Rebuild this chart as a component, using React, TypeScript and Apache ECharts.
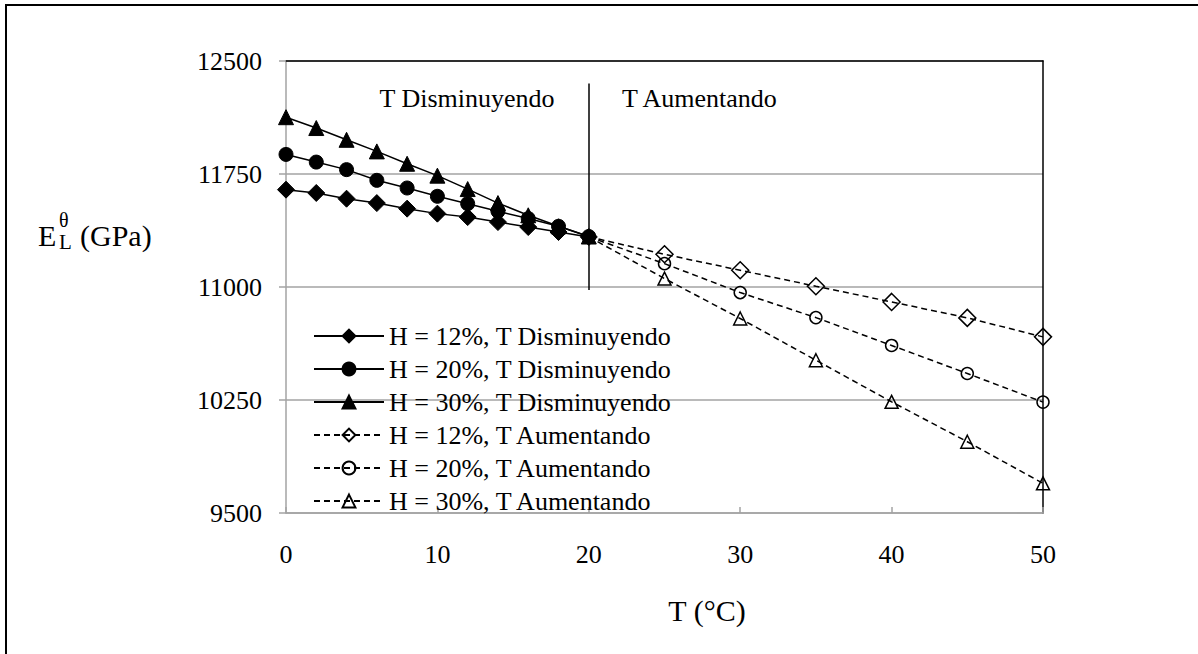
import React, { useEffect, useRef } from "react";
import * as echarts from "echarts";

const tDown = [0, 2, 4, 6, 8, 10, 12, 14, 16, 18, 20];
const tUp = [20, 25, 30, 35, 40, 45, 50];

const h12Down = [11646, 11624, 11586, 11557, 11520, 11487, 11464, 11431, 11398, 11365, 11332];
const h20Down = [11880, 11829, 11779, 11708, 11657, 11602, 11553, 11503, 11454, 11403, 11335];
const h30Down = [12127, 12055, 11977, 11900, 11818, 11739, 11650, 11557, 11476, 11403, 11335];

const h12Up = [11333, 11217, 11111, 11005, 10901, 10795, 10669];
const h20Up = [11333, 11155, 10963, 10797, 10612, 10426, 10236];
const h30Up = [11333, 11056, 10791, 10514, 10238, 9973, 9697];

const seriesNames = [
  "H = 12%, T Disminuyendo",
  "H = 20%, T Disminuyendo",
  "H = 30%, T Disminuyendo",
  "H = 12%, T Aumentando",
  "H = 20%, T Aumentando",
  "H = 30%, T Aumentando",
];

const yTicks = { min: 9500, max: 12500, interval: 750 };
const xTicks = { min: 0, max: 50, interval: 10 };

const dividerT = 20;
const dividerTop = 12350;
const dividerBottom = 10980;

const FONT = "'Liberation Serif', 'Times New Roman', serif";
const GRAY = "#a3a3a3";

function pairs(xs: number[], ys: number[], skipFirstSymbol = false) {
  return xs.map((x, i) =>
    skipFirstSymbol && i === 0 ? { value: [x, ys[i]], symbol: "none" } : { value: [x, ys[i]] }
  );
}

export default function App() {
  const ref = useRef<HTMLDivElement>(null);

  useEffect(() => {
    if (!ref.current) return;
    const chart = echarts.init(ref.current, undefined, { renderer: "svg" });

    const solid = { color: "#000", width: 1.5, type: "solid" as const };
    const dashed = { color: "#000", width: 1.5, type: [6, 4] as any };
    const filled = { color: "#000", borderColor: "#000", borderWidth: 1 };
    const hollow = { color: "rgba(0,0,0,0)", borderColor: "#000", borderWidth: 1.5 };

    chart.setOption({
      animation: false,
      backgroundColor: "#fff",
      textStyle: { fontFamily: FONT },
      grid: { left: 286, right: 155, top: 61, bottom: 141, containLabel: false },
      xAxis: [
        {
          type: "value",
          min: xTicks.min,
          max: xTicks.max,
          interval: xTicks.interval,
          axisLine: { show: true, onZero: false, lineStyle: { color: GRAY, width: 1.5 } },
          axisTick: { show: true, inside: true, length: 6, lineStyle: { color: GRAY, width: 1.5 } },
          axisLabel: {
            color: "#000",
            fontSize: 26,
            fontFamily: FONT,
            margin: 28,
            formatter: (v: number) => String(v),
          },
          splitLine: { show: false },
        },
        {
          type: "value",
          position: "top",
          min: xTicks.min,
          max: xTicks.max,
          axisLine: { show: true, onZero: false, lineStyle: { color: "#000", width: 1.5 } },
          axisTick: { show: false },
          axisLabel: { show: false },
          splitLine: { show: false },
        },
      ],
      yAxis: [
        {
          type: "value",
          min: yTicks.min,
          max: yTicks.max,
          interval: yTicks.interval,
          axisLine: { show: true, onZero: false, lineStyle: { color: GRAY, width: 1.5 } },
          axisTick: { show: true, inside: false, length: 7, lineStyle: { color: GRAY, width: 1.5 } },
          axisLabel: {
            color: "#000",
            fontSize: 26,
            fontFamily: FONT,
            margin: 24,
            formatter: (v: number) => String(v),
          },
          splitLine: { show: true, lineStyle: { color: GRAY, width: 1.5 } },
        },
        {
          type: "value",
          position: "right",
          min: yTicks.min,
          max: yTicks.max,
          axisLine: { show: true, onZero: false, lineStyle: { color: "#000", width: 1.5 } },
          axisTick: { show: false },
          axisLabel: { show: false },
          splitLine: { show: false },
        },
      ],
      legend: {
        data: seriesNames,
        orient: "vertical",
        left: 308,
        top: 318,
        itemWidth: 70,
        itemHeight: 16,
        itemGap: 7,
        selectedMode: false,
        textStyle: { color: "#000", fontSize: 26, fontFamily: FONT, lineHeight: 26 },
      },
      series: [
        {
          name: seriesNames[2],
          type: "line",
          z: 2,
          data: pairs(tDown, h30Down),
          symbol: "triangle",
          symbolSize: 15,
          lineStyle: solid,
          itemStyle: filled,
        },
        {
          name: seriesNames[1],
          type: "line",
          z: 3,
          data: pairs(tDown, h20Down),
          symbol: "circle",
          symbolSize: 14,
          lineStyle: solid,
          itemStyle: filled,
        },
        {
          name: seriesNames[0],
          type: "line",
          z: 4,
          data: pairs(tDown, h12Down),
          symbol: "diamond",
          symbolSize: 17,
          lineStyle: solid,
          itemStyle: filled,
          markLine: {
            silent: true,
            symbol: "none",
            label: { show: false },
            lineStyle: { color: "#000", width: 1.5, type: "solid" },
            data: [[{ coord: [dividerT, dividerTop] }, { coord: [dividerT, dividerBottom] }]],
          },
        },
        {
          name: seriesNames[3],
          type: "line",
          z: 2,
          data: pairs(tUp, h12Up, true),
          symbol: "diamond",
          symbolSize: 17,
          lineStyle: dashed,
          itemStyle: hollow,
        },
        {
          name: seriesNames[4],
          type: "line",
          z: 2,
          data: pairs(tUp, h20Up, true),
          symbol: "circle",
          symbolSize: 12,
          lineStyle: dashed,
          itemStyle: hollow,
        },
        {
          name: seriesNames[5],
          type: "line",
          z: 2,
          data: pairs(tUp, h30Up, true),
          symbol: "triangle",
          symbolSize: 13,
          lineStyle: dashed,
          itemStyle: hollow,
        },
      ],
      graphic: [
        {
          type: "rect",
          shape: { x: 6, y: 5, width: 1400, height: 1000 },
          style: { fill: "none", stroke: "#000", lineWidth: 2 },
          silent: true,
          z: -10,
        },
        {
          type: "text",
          x: 467,
          y: 98,
          style: {
            text: "T Disminuyendo",
            font: `26px ${FONT}`,
            fill: "#000",
            textAlign: "center",
            textVerticalAlign: "middle",
          },
        },
        {
          type: "text",
          x: 622,
          y: 98,
          style: {
            text: "T Aumentando",
            font: `26px ${FONT}`,
            fill: "#000",
            textAlign: "left",
            textVerticalAlign: "middle",
          },
        },
        {
          type: "text",
          x: 707,
          y: 610,
          style: {
            text: "T (°C)",
            font: `30px ${FONT}`,
            fill: "#000",
            textAlign: "center",
            textVerticalAlign: "middle",
          },
        },
        {
          type: "text",
          x: 38,
          y: 235,
          style: { text: "E", font: `30px ${FONT}`, fill: "#000", textAlign: "left", textVerticalAlign: "middle" },
        },
        {
          type: "text",
          x: 59,
          y: 220,
          style: {
            text: "θ",
            font: `20px ${FONT}`,
            lineHeight: 14,
            fill: "#000",
            textAlign: "left",
            textVerticalAlign: "middle",
          },
        },
        {
          type: "text",
          x: 59,
          y: 242,
          style: {
            text: "L",
            font: `21px ${FONT}`,
            lineHeight: 14,
            fill: "#000",
            textAlign: "left",
            textVerticalAlign: "middle",
          },
        },
        {
          type: "text",
          x: 80,
          y: 235,
          style: { text: "(GPa)", font: `30px ${FONT}`, fill: "#000", textAlign: "left", textVerticalAlign: "middle" },
        },
      ],
    });

    return () => chart.dispose();
  }, []);

  return <div ref={ref} style={{ position: "absolute", left: 0, top: 0, width: 1198, height: 654 }} />;
}
